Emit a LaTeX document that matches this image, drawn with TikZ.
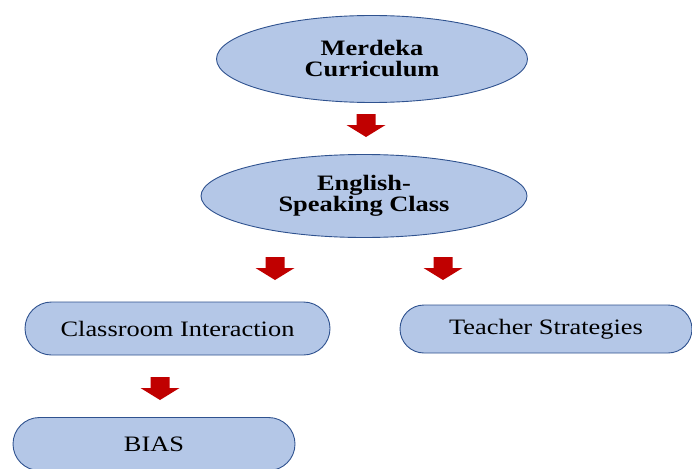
\documentclass[tikz,border=0pt]{standalone}
\usepackage{fontspec}
\setmainfont{Liberation Serif}[FakeStretch=1.2]
\usepackage{xcolor}
\usepackage{tikz}
\usetikzlibrary{shapes.geometric, shapes.misc, positioning}

\definecolor{boxblue}{HTML}{B4C7E7}
\definecolor{edgeblue}{HTML}{2F528F}
\definecolor{arrowred}{HTML}{C00000}

\begin{document}
\begin{tikzpicture}[x=1pt, y=-1pt,
    oval/.style={ellipse, draw=edgeblue, fill=boxblue, line width=0.9pt, inner sep=0pt,
        align=center, font=\fontsize{22}{21}\selectfont\bfseries},
    pill/.style={rounded rectangle, draw=edgeblue, fill=boxblue, line width=0.9pt, inner sep=0pt,
        font=\fontsize{22}{22}\selectfont},
    downarrow/.pic={\fill[arrowred] (-9.5,0) -- (9.5,0) -- (9.5,11) -- (19.5,11) -- (0,23) -- (-19.5,11) -- (-9.5,11) -- cycle;}]

    \useasboundingbox (0,0) rectangle (692,468);

    % =================================================================
    % 1. MAIN POSITIONS
    % =================================================================
    \coordinate (M) at (372, 59);
    \coordinate (E) at (364, 196);
    \coordinate (C) at (177.5, 328.5);
    \coordinate (T) at (546, 329);
    \coordinate (B) at (154, 444);

    % =================================================================
    % 2. OVALS AND PILLS
    % =================================================================
    \node[oval, minimum width=311, minimum height=87] (Merdeka) at (M) {Merdeka\\Curriculum};
    \node[oval, minimum width=326, minimum height=83] (English) at (E) {English-\\Speaking Class};

    \node[pill, minimum width=305, minimum height=53] (Classroom) at (C) {Classroom Interaction};
    \node[pill, minimum width=292, minimum height=48] (Teacher) at (T) {Teacher Strategies};
    \node[pill, minimum width=282, minimum height=53] (Bias) at (B) {BIAS};

    % =================================================================
    % 3. RED BLOCK ARROWS
    % =================================================================
    \pic at (366, 114) {downarrow};
    \pic at (275, 257) {downarrow};
    \pic at (443, 257) {downarrow};
    \pic at (160, 377) {downarrow};

\end{tikzpicture}
\end{document}
